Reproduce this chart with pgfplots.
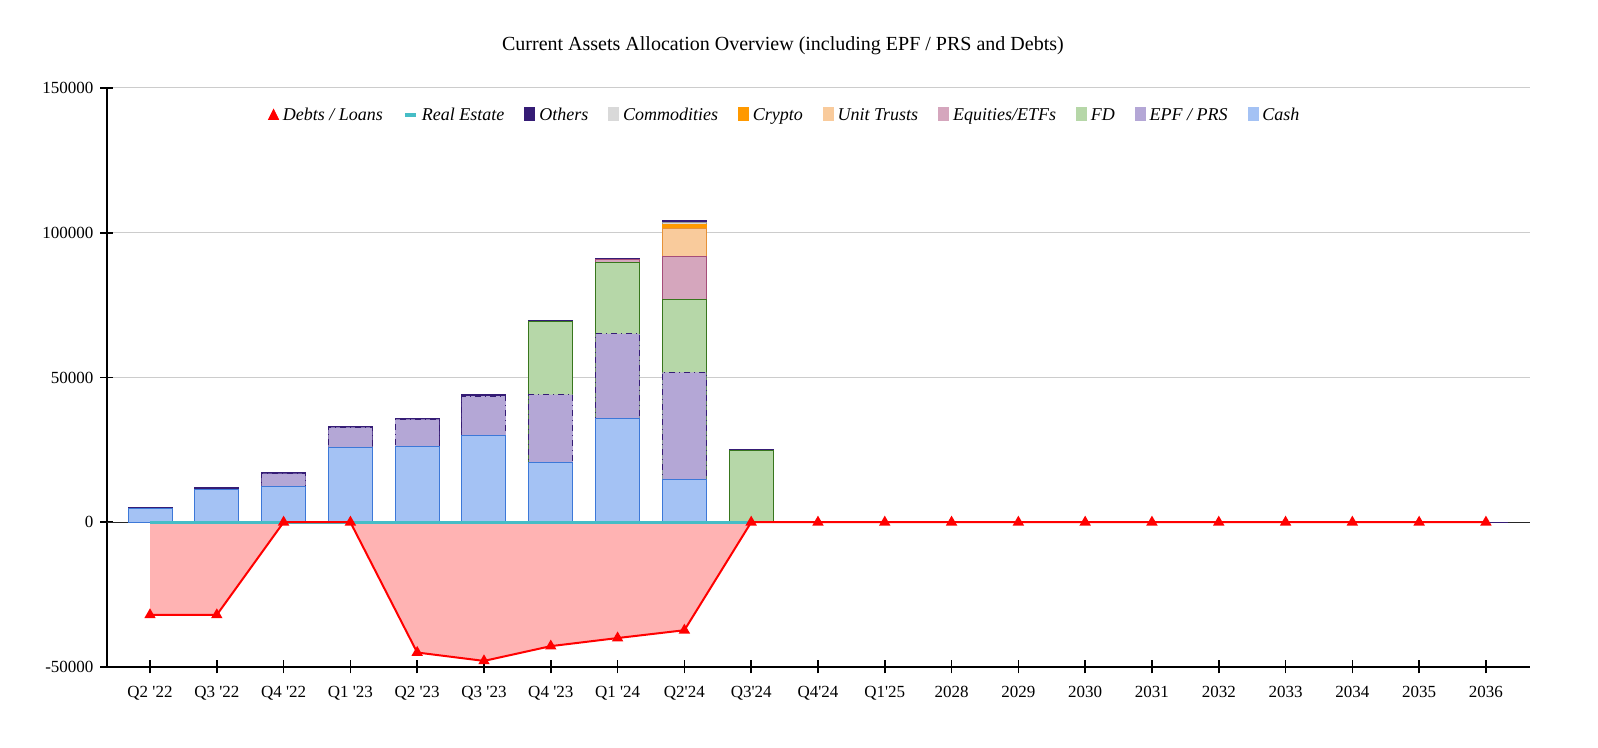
\documentclass[border=0pt]{standalone}
\usepackage{pgfplots}
\pgfplotsset{compat=1.18}
\usepackage{fontspec}
\setmainfont{Liberation Serif}
\definecolor{cashF}{HTML}{A4C2F4}
\definecolor{cashD}{HTML}{3C78D8}
\definecolor{epfF}{HTML}{B4A7D6}
\definecolor{epfD}{HTML}{351C75}
\definecolor{fdF}{HTML}{B6D7A8}
\definecolor{fdD}{HTML}{38761D}
\definecolor{eqF}{HTML}{D5A6BD}
\definecolor{eqD}{HTML}{A64D79}
\definecolor{utF}{HTML}{F9CB9C}
\definecolor{utD}{HTML}{E69138}
\definecolor{crF}{HTML}{FF9900}
\definecolor{coF}{HTML}{D9D9D9}
\definecolor{coD}{HTML}{999999}
\definecolor{otF}{HTML}{351C75}
\definecolor{reC}{HTML}{46BDC6}
\definecolor{debtF}{HTML}{FFB3B3}
\definecolor{gridC}{HTML}{CCCCCC}
\newcommand{\q}{\textquotesingle}
\begin{document}
\begin{tikzpicture}
\useasboundingbox (-53.5pt,-40.5pt) rectangle (745.5pt,333.5pt);
\begin{axis}[
  at={(0,0)}, anchor=south west,
  width=711.5pt, height=289.5pt, scale only axis,
  xmin=-0.644, xmax=20.66, ymin=-50000, ymax=150000,
  axis lines*=left,
  axis line style={black, line width=0.6pt},
  xtick={0,...,20},
  xticklabels={Q2 \q22,Q3 \q22,Q4 \q22,Q1 \q23,Q2 \q23,Q3 \q23,Q4 \q23,Q1 \q24,Q2\q24,Q3\q24,Q4\q24,Q1\q25,2028,2029,2030,2031,2032,2033,2034,2035,2036},
  xticklabel style={yshift=-3pt},
  scaled y ticks=false,
  ytick={-50000,0,50000,100000,150000},
  yticklabels={-50000,0,50000,100000,150000},
  extra y ticks={0},
  extra y tick labels={},
  extra y tick style={grid=major, major grid style={black!85, line width=0.5pt}, major tick length=0pt},
  ymajorgrids,
  major grid style={gridC, line width=0.5pt},
  major tick length=6.5pt,
  tick align=center,
  tick style={black, line width=0.8pt},
  tick label style={font=\fontsize{8.5}{10}\selectfont},
  legend columns=-1,
  legend style={at={(0.477,0.952)}, anchor=center, draw=none, fill=none,
    font=\fontsize{9}{11}\selectfont\itshape,
    /tikz/every even column/.append style={column sep=8pt}},
  clip=false,
]
% debts area
\addplot[fill=debtF, draw=none, forget plot] coordinates {(0,-32000) (1,-32000) (2,0) (3,0) (4,-45000) (5,-47900) (6,-42800) (7,-40000) (8,-37300) (9,0)} \closedcycle;
% bars (cumulative tops), drawn from the top series down
\addplot[ybar, bar width=22pt, bar shift=0pt, fill=otF, draw=otF, line width=0.5pt, forget plot] coordinates {(0,5200) (1,12000) (2,17300) (3,33200) (4,35900) (5,44200) (6,69600) (7,91200) (8,104100) (9,25300) (20,0)};
\addplot[ybar, bar width=22pt, bar shift=0pt, fill=coF, draw=coD, line width=0.5pt, forget plot] coordinates {(8,103500)};
\addplot[ybar, bar width=22pt, bar shift=0pt, fill=crF, draw=crF, line width=0.5pt, forget plot] coordinates {(8,103000)};
\addplot[ybar, bar width=22pt, bar shift=0pt, fill=utF, draw=utD, line width=0.5pt, forget plot] coordinates {(8,101400)};
\addplot[ybar, bar width=22pt, bar shift=0pt, fill=eqF, draw=eqD, line width=0.5pt, forget plot] coordinates {(7,90600) (8,91900)};
\addplot[ybar, bar width=22pt, bar shift=0pt, fill=fdF, draw=fdD, line width=0.5pt, forget plot] coordinates {(6,69200) (7,89700) (8,76800) (9,24900)};
\addplot[ybar, bar width=22pt, bar shift=0pt, fill=epfF, draw=epfD, line width=0.5pt, dash dot, forget plot] coordinates {(2,16800) (3,32800) (4,35500) (5,43600) (6,44100) (7,65100) (8,51800)};
\addplot[ybar, bar width=22pt, bar shift=0pt, fill=cashF, draw=cashD, line width=0.5pt, forget plot] coordinates {(0,4700) (1,11400) (2,12500) (3,25800) (4,26100) (5,29800) (6,20600) (7,36000) (8,14900)};
% real estate
\addplot[reC, line width=1.5pt, forget plot] coordinates {(0,0) (1,0) (2,0) (3,0) (4,0) (5,0) (6,0) (7,0) (8,0) (9,0)};
% debts line
\addplot[red, line width=1pt, mark=triangle*, mark size=2.3pt, mark options={solid}, forget plot] coordinates {(0,-32000) (1,-32000) (2,0) (3,0) (4,-45000) (5,-47900) (6,-42800) (7,-40000) (8,-37300) (9,0) (10,0) (11,0) (12,0) (13,0) (14,0) (15,0) (16,0) (17,0) (18,0) (19,0) (20,0)};
% legend
\addlegendimage{legend image code/.code={\fill[red] (0pt,-1.8pt) -- (5pt,-1.8pt) -- (2.5pt,3.2pt) -- cycle;}}
\addlegendentry{Debts / Loans}
\addlegendimage{legend image code/.code={\draw[reC, line width=2pt] (0pt,0.6pt) -- (5.5pt,0.6pt);}}
\addlegendentry{Real Estate}
\addlegendimage{legend image code/.code={\fill[otF] (0pt,-2.5pt) rectangle (5pt,4pt);}}
\addlegendentry{Others}
\addlegendimage{legend image code/.code={\fill[coF] (0pt,-2.5pt) rectangle (5pt,4pt);}}
\addlegendentry{Commodities}
\addlegendimage{legend image code/.code={\fill[crF] (0pt,-2.5pt) rectangle (5pt,4pt);}}
\addlegendentry{Crypto}
\addlegendimage{legend image code/.code={\fill[utF] (0pt,-2.5pt) rectangle (5pt,4pt);}}
\addlegendentry{Unit Trusts}
\addlegendimage{legend image code/.code={\fill[eqF] (0pt,-2.5pt) rectangle (5pt,4pt);}}
\addlegendentry{Equities/ETFs}
\addlegendimage{legend image code/.code={\fill[fdF] (0pt,-2.5pt) rectangle (5pt,4pt);}}
\addlegendentry{FD}
\addlegendimage{legend image code/.code={\fill[epfF] (0pt,-2.5pt) rectangle (5pt,4pt);}}
\addlegendentry{EPF / PRS}
\addlegendimage{legend image code/.code={\fill[cashF] (0pt,-2.5pt) rectangle (5pt,4pt);}}
\addlegendentry{Cash}
\node[font=\fontsize{10}{12}\selectfont] at (rel axis cs:0.475,1.0725) {Current Assets Allocation Overview (including EPF / PRS and Debts)};
\end{axis}
\end{tikzpicture}
\end{document}
